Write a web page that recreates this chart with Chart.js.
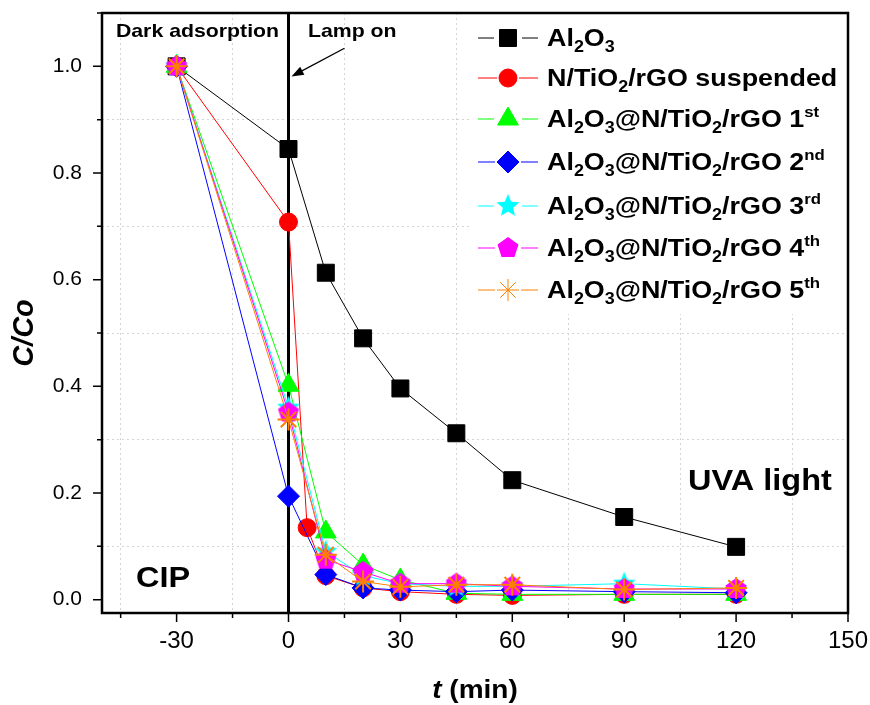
<!DOCTYPE html>
<html>
<head>
<meta charset="utf-8">
<script src="https://cdn.jsdelivr.net/npm/chart.js@4.4.0/dist/chart.umd.min.js"></script>
<style>
  html, body { margin: 0; padding: 0; background: #fff; }
  canvas { display: block; }
</style>
</head>
<body>
<canvas id="chart" width="870" height="705"></canvas>
<script>
// time points (min)
const timeAl2O3 = [-30, 0, 10, 20, 30, 45, 60, 90, 120];
const timeSuspended = [-30, 0, 5, 10, 20, 30, 45, 60, 90, 120];
const timeCycles = [-30, 0, 10, 20, 30, 45, 60, 90, 120];

// C/Co values
const al2o3 = [1.0, 0.845, 0.613, 0.490, 0.396, 0.312, 0.224, 0.155, 0.099];
const suspended = [1.0, 0.708, 0.135, 0.045, 0.022, 0.015, 0.010, 0.008, 0.010, 0.010];
const cycle1 = [1.0, 0.402, 0.127, 0.065, 0.037, 0.012, 0.010, 0.010, 0.010];
const cycle2 = [1.0, 0.194, 0.047, 0.022, 0.018, 0.015, 0.018, 0.015, 0.013];
const cycle3 = [1.0, 0.360, 0.090, 0.045, 0.030, 0.025, 0.025, 0.030, 0.020];
const cycle4 = [1.0, 0.351, 0.075, 0.052, 0.030, 0.030, 0.025, 0.020, 0.020];
const cycle5 = [1.0, 0.338, 0.084, 0.034, 0.024, 0.028, 0.028, 0.019, 0.022];

const seriesColors = ['#000000', '#ff0000', '#00ff00', '#0000ff', '#00ffff', '#ff00ff', '#ff8000'];

const STRETCH = 1.12; // text in the figure is slightly wide

// filled polygon / star markers that Chart.js has no built-in style for
function makeMarker(r, points, innerRatio, color) {
    const c = document.createElement('canvas');
    c.width = c.height = 2 * r + 2;
    const g = c.getContext('2d');
    const n = innerRatio ? points * 2 : points;
    g.beginPath();
    for (let i = 0; i < n; i++) {
        const rad = -Math.PI / 2 + i * 2 * Math.PI / n;
        const rr = (innerRatio && i % 2) ? r * innerRatio : r;
        const px = r + 1 + Math.cos(rad) * rr, py = r + 1 + Math.sin(rad) * rr;
        i ? g.lineTo(px, py) : g.moveTo(px, py);
    }
    g.closePath();
    g.fillStyle = color;
    g.fill();
    return c;
}

const starMarker = makeMarker(12, 5, 0.45, seriesColors[4]);
const pentagonMarker = makeMarker(11, 5, 0, seriesColors[5]);

const pointStyles = ['rect', 'circle', 'triangle', 'rectRot', starMarker, pentagonMarker, 'star'];
const pointRadii = [12, 9, 12, 11, 12, 11, 11];

// legend labels as pieces: [text, 'sub' | 'sup' | undefined]
function cycleLabel(n, suf) {
    return [['Al'], ['2', 'sub'], ['O'], ['3', 'sub'], ['@N/TiO'], ['2', 'sub'], ['/rGO ' + n], [suf, 'sup']];
}
const legendLabels = [
    [['Al'], ['2', 'sub'], ['O'], ['3', 'sub']],
    [['N/TiO'], ['2', 'sub'], ['/rGO suspended']],
    cycleLabel(1, 'st'),
    cycleLabel(2, 'nd'),
    cycleLabel(3, 'rd'),
    cycleLabel(4, 'th'),
    cycleLabel(5, 'th')
];
const plainLabels = ['Al2O3', 'N/TiO2/rGO suspended', 'Al2O3@N/TiO2/rGO 1st', 'Al2O3@N/TiO2/rGO 2nd',
    'Al2O3@N/TiO2/rGO 3rd', 'Al2O3@N/TiO2/rGO 4th', 'Al2O3@N/TiO2/rGO 5th'];
const legendRows = [38, 78, 119, 162, 206, 248, 290];

const seriesTimes = [timeAl2O3, timeSuspended, timeCycles, timeCycles, timeCycles, timeCycles, timeCycles];
const seriesValues = [al2o3, suspended, cycle1, cycle2, cycle3, cycle4, cycle5];

const datasets = seriesValues.map((vals, i) => ({
    label: plainLabels[i],
    data: vals.map((v, j) => ({ x: seriesTimes[i][j], y: v })),
    borderColor: seriesColors[i],
    backgroundColor: seriesColors[i],
    borderWidth: 1,
    pointStyle: pointStyles[i],
    pointRadius: pointRadii[i],
    pointBackgroundColor: seriesColors[i],
    pointBorderColor: seriesColors[i],
    pointBorderWidth: i === 6 ? 2 : 1,
    order: 6 - i // later series sit on top
}));

const FONT = '"Liberation Sans", Arial, sans-serif';

function wideText(ctx, text, x, y, font, align) {
    ctx.save();
    ctx.font = font;
    ctx.translate(x, y);
    ctx.scale(STRETCH, 1);
    ctx.textAlign = align || 'center';
    ctx.textBaseline = 'middle';
    ctx.fillText(text, 0, 0);
    ctx.restore();
}

function piecesText(ctx, pieces, x, y) {
    ctx.save();
    ctx.translate(x, y);
    ctx.scale(STRETCH, 1);
    ctx.textBaseline = 'alphabetic';
    ctx.textAlign = 'left';
    let cx = 0;
    const base = 8;
    pieces.forEach(([t, kind]) => {
        let dy = base;
        if (kind === 'sub') { ctx.font = 'bold 16px ' + FONT; dy = base + 6; }
        else if (kind === 'sup') { ctx.font = 'bold 15px ' + FONT; dy = base - 10; }
        else ctx.font = 'bold 24px ' + FONT;
        ctx.fillText(t, cx, dy);
        cx += ctx.measureText(t).width;
    });
    ctx.restore();
}

const decorPlugin = {
    id: 'decor',
    beforeDatasetsDraw(chart) {
        const { ctx, chartArea: a, scales: { x } } = chart;
        // lamp switched on at t = 0
        const px = x.getPixelForValue(0);
        ctx.save();
        ctx.strokeStyle = '#000';
        ctx.lineWidth = 3;
        ctx.beginPath();
        ctx.moveTo(px, a.top);
        ctx.lineTo(px, a.bottom);
        ctx.stroke();
        ctx.restore();
    },
    afterDatasetsDraw(chart) {
        const { ctx, chartArea: a, scales: { x, y } } = chart;
        ctx.save();
        ctx.fillStyle = '#000';
        wideText(ctx, 'Dark adsorption', x.getPixelForValue(-24.4), y.getPixelForValue(1.064), 'bold 19px ' + FONT);
        wideText(ctx, 'Lamp on', x.getPixelForValue(17.1), y.getPixelForValue(1.064), 'bold 19px ' + FONT);
        wideText(ctx, 'CIP', x.getPixelForValue(-33.6), y.getPixelForValue(0.038), 'bold 29px ' + FONT);
        wideText(ctx, 'UVA light', x.getPixelForValue(126.4), y.getPixelForValue(0.22), 'bold 29px ' + FONT);

        // arrow pointing at the lamp line
        const x1 = x.getPixelForValue(15), y1 = y.getPixelForValue(1.034);
        const x2 = x.getPixelForValue(0.8), y2 = y.getPixelForValue(0.981);
        const ang = Math.atan2(y2 - y1, x2 - x1);
        ctx.strokeStyle = '#000';
        ctx.lineWidth = 1.3;
        ctx.beginPath();
        ctx.moveTo(x1, y1);
        ctx.lineTo(x2 - Math.cos(ang) * 6, y2 - Math.sin(ang) * 6);
        ctx.stroke();
        ctx.beginPath();
        ctx.moveTo(x2, y2);
        ctx.lineTo(x2 - Math.cos(ang - 0.35) * 13, y2 - Math.sin(ang - 0.35) * 13);
        ctx.lineTo(x2 - Math.cos(ang + 0.35) * 13, y2 - Math.sin(ang + 0.35) * 13);
        ctx.closePath();
        ctx.fill();

        // legend
        ctx.fillStyle = '#fff';
        ctx.fillRect(470, a.top + 1, a.right - 471, 300);
        chart.data.datasets.forEach((ds, i) => {
            const ry = legendRows[i];
            const mx = 508, r = pointRadii[i];
            ctx.strokeStyle = seriesColors[i];
            ctx.lineWidth = 1;
            ctx.beginPath();
            ctx.moveTo(478, ry); ctx.lineTo(mx - r - 2, ry);
            ctx.moveTo(mx + r + 2, ry); ctx.lineTo(538, ry);
            ctx.stroke();
            ctx.fillStyle = seriesColors[i];
            Chart.helpers.drawPoint(ctx, {
                pointStyle: pointStyles[i], radius: r, rotation: 0,
                borderWidth: i === 6 ? 2 : 1
            }, mx, ry);
            ctx.fillStyle = '#000';
            piecesText(ctx, legendLabels[i], 547, ry);
        });
        ctx.restore();
    },
    afterDraw(chart) {
        const { ctx, chartArea: a, scales: { x, y } } = chart;
        ctx.save();
        ctx.strokeStyle = '#000';
        ctx.lineWidth = 1.5;
        ctx.beginPath();
        x.ticks.forEach(t => {
            const k = t.value / 15;
            if (Math.abs(k - Math.round(k)) > 1e-6) return;
            const len = Math.round(k) % 2 === 0 ? 9 : 5;
            const px = x.getPixelForValue(t.value);
            ctx.moveTo(px, a.bottom); ctx.lineTo(px, a.bottom + len);
        });
        y.ticks.forEach(t => {
            const k = t.value * 10;
            if (Math.abs(k - Math.round(k)) > 1e-6) return;
            const len = Math.round(k) % 2 === 0 ? 9 : 5;
            const py = y.getPixelForValue(t.value);
            ctx.moveTo(a.left, py); ctx.lineTo(a.left - len, py);
        });
        ctx.stroke();
        ctx.lineWidth = 2.5;
        ctx.strokeRect(a.left, a.top, a.right - a.left, a.bottom - a.top);

        // axis titles
        ctx.fillStyle = '#000';
        ctx.save();
        ctx.translate(25, 333);
        ctx.rotate(-Math.PI / 2);
        ctx.font = 'italic bold 29px ' + FONT;
        ctx.textAlign = 'center';
        ctx.textBaseline = 'middle';
        ctx.fillText('C/Co', 0, 0);
        ctx.restore();

        ctx.save();
        const cx = (a.left + a.right) / 2;
        ctx.translate(cx, 691);
        ctx.scale(STRETCH, 1);
        ctx.textBaseline = 'middle';
        ctx.font = 'italic bold 25px ' + FONT;
        const w1 = ctx.measureText('t').width;
        ctx.font = 'bold 25px ' + FONT;
        const w2 = ctx.measureText(' (min)').width;
        ctx.textAlign = 'left';
        ctx.font = 'italic bold 25px ' + FONT;
        ctx.fillText('t', -(w1 + w2) / 2, 0);
        ctx.font = 'bold 25px ' + FONT;
        ctx.fillText(' (min)', -(w1 + w2) / 2 + w1, 0);
        ctx.restore();
        ctx.restore();
    }
};

function minorGrid(step) {
    return ctx => {
        const k = ctx.tick.value / step;
        if (Math.abs(k - Math.round(k)) > 1e-6) return 'rgba(0,0,0,0)';
        return Math.round(k) % 2 === 0 ? 'rgba(0,0,0,0)' : '#d4d4d4';
    };
}

// keep the plot frame exactly where the figure has it
function noOverflow(s, size) {
    if (s.isHorizontal()) s.height = size; else s.width = size;
    s.paddingLeft = s.paddingRight = s.paddingTop = s.paddingBottom = 0;
}

new Chart(document.getElementById('chart').getContext('2d'), {
    type: 'line',
    data: { datasets: datasets },
    options: {
        responsive: false,
        animation: false,
        layout: { padding: { top: 13, right: 22, left: 0, bottom: 0 } },
        plugins: { legend: { display: false }, tooltip: { enabled: false } },
        scales: {
            x: {
                type: 'linear',
                min: -50,
                max: 150,
                afterFit: s => noOverflow(s, 92),
                grid: { color: minorGrid(15), lineWidth: 1, drawTicks: false },
                border: { display: false, dash: [2, 3] },
                ticks: {
                    stepSize: 15,
                    includeBounds: false,
                    autoSkip: false,
                    maxRotation: 0,
                    padding: 14,
                    color: '#000',
                    font: { family: '"Liberation Sans Narrow", "Liberation Sans", sans-serif', size: 24 },
                    callback: v => (Math.abs(v % 30) < 1e-6 ? String(v) : '')
                }
            },
            y: {
                type: 'linear',
                min: -0.025,
                max: 1.1,
                afterFit: s => noOverflow(s, 102),
                grid: { color: minorGrid(0.1), lineWidth: 1, drawTicks: false },
                border: { display: false, dash: [2, 3] },
                ticks: {
                    stepSize: 0.1,
                    includeBounds: false,
                    autoSkip: false,
                    padding: 20,
                    color: '#000',
                    font: { family: FONT, size: 21 },
                    callback: v => {
                        const k = Math.round(v * 10);
                        if (Math.abs(v * 10 - k) > 1e-6 || k % 2 !== 0 || k > 10) return '';
                        return (k / 10).toFixed(1);
                    }
                }
            }
        }
    },
    plugins: [decorPlugin]
});
</script>
</body>
</html>
